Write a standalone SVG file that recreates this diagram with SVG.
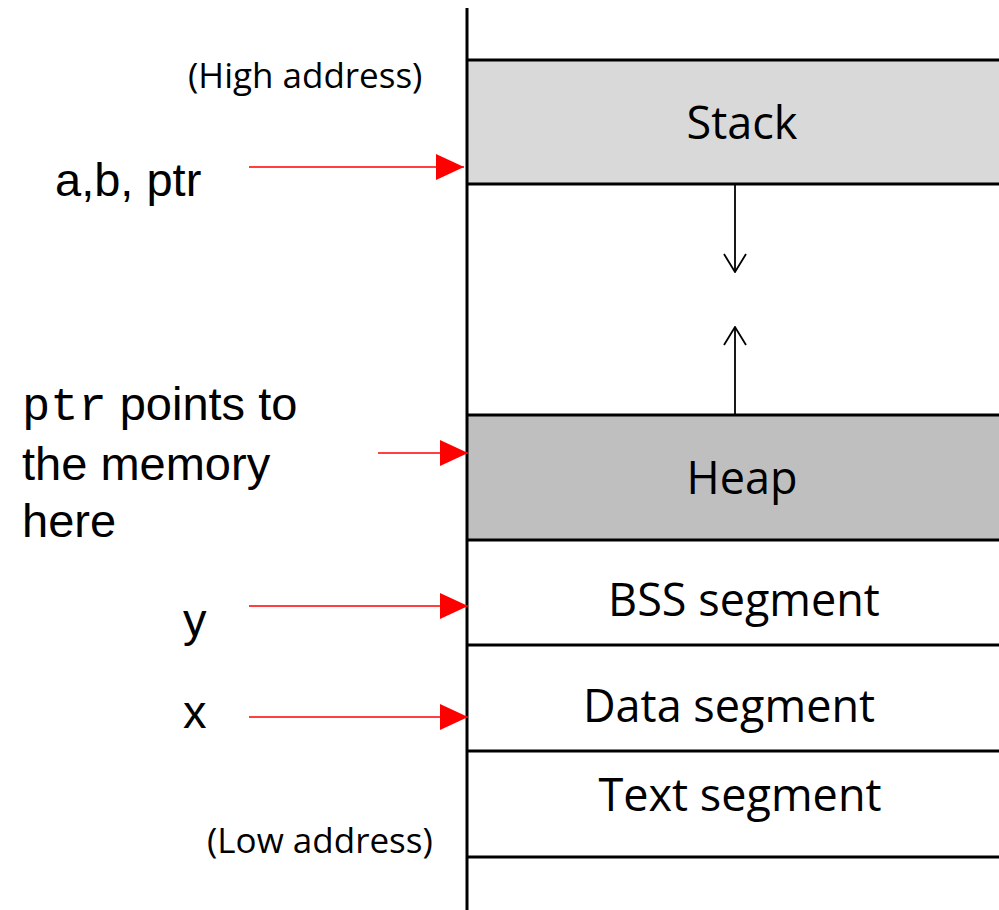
<svg xmlns="http://www.w3.org/2000/svg" width="999" height="910" viewBox="0 0 999 910">
<style>
.seg{font-family:"Open Sans","Liberation Sans",sans-serif;font-size:45px;fill:#000;text-anchor:middle}
.addr{font-family:"Open Sans","Liberation Sans",sans-serif;font-size:35px;fill:#000}
.lbl{font-family:"Liberation Sans",Arial,sans-serif;font-size:47px;fill:#000}
.mono{font-family:"Liberation Mono","Courier New",monospace;font-weight:300}
.bd{stroke:#000;stroke-width:3;fill:none}
.red{stroke:#ff0000;stroke-width:1.6;fill:none}
.blk{stroke:#000;stroke-width:1.8;fill:none}
</style>
<defs>
<marker id="rh" viewBox="0 0 28 26" refX="28" refY="13" markerWidth="28" markerHeight="26" markerUnits="userSpaceOnUse" orient="auto">
<path d="M0,0 L28,13 L0,26 Z" fill="#ff0000"/>
</marker>
<marker id="vh" viewBox="0 0 26 24" refX="25" refY="12" markerWidth="26" markerHeight="24" markerUnits="userSpaceOnUse" orient="auto">
<path d="M7,1 L25,12 L7,23" stroke="#000" stroke-width="1.8" fill="none"/>
</marker>
</defs>
<rect width="999" height="910" fill="#fff"/>
<g id="stack">
<rect x="467" y="60" width="535" height="124" fill="#d9d9d9"/>
<text class="seg" x="742" y="139">Stack</text>
</g>
<g id="heap">
<rect x="467" y="415" width="535" height="125" fill="#bfbfbf"/>
<text class="seg" x="742" y="494">Heap</text>
</g>
<g id="bss">
<text class="seg" x="744" y="616">BSS segment</text>
</g>
<g id="data">
<text class="seg" x="729" y="722">Data segment</text>
</g>
<g id="text">
<text class="seg" x="740" y="811">Text segment</text>
</g>
<g id="frame">
<line class="bd" x1="467" y1="8" x2="467" y2="910"/>
<line class="bd" x1="467" y1="60" x2="999" y2="60"/>
<line class="bd" x1="467" y1="184" x2="999" y2="184"/>
<line class="bd" x1="467" y1="415" x2="999" y2="415"/>
<line class="bd" x1="467" y1="540" x2="999" y2="540"/>
<line class="bd" x1="467" y1="645" x2="999" y2="645"/>
<line class="bd" x1="467" y1="751" x2="999" y2="751"/>
<line class="bd" x1="467" y1="857" x2="999" y2="857"/>
</g>
<g id="labels">
<text class="addr" x="188" y="88">(High address)</text>
<text class="addr" x="207" y="853">(Low address)</text>
<text class="lbl" x="55" y="196">a,b, ptr</text>
<text class="lbl" x="22" y="420"><tspan class="mono">ptr</tspan> points to</text>
<text class="lbl" x="22" y="480">the memory</text>
<text class="lbl" x="22" y="537">here</text>
<text class="lbl" x="183" y="636">y</text>
<text class="lbl" x="183" y="728">x</text>
</g>
<g id="connectors">
<line class="red" x1="249" y1="167" x2="464" y2="167" marker-end="url(#rh)"/>
<line class="red" x1="378" y1="453" x2="468" y2="453" marker-end="url(#rh)"/>
<line class="red" x1="249" y1="606" x2="468" y2="606" marker-end="url(#rh)"/>
<line class="red" x1="249" y1="717" x2="468" y2="717" marker-end="url(#rh)"/>
<line class="blk" x1="735" y1="184" x2="735" y2="272" marker-end="url(#vh)"/>
<line class="blk" x1="735" y1="415" x2="735" y2="327" marker-end="url(#vh)"/>
</g>
</svg>
